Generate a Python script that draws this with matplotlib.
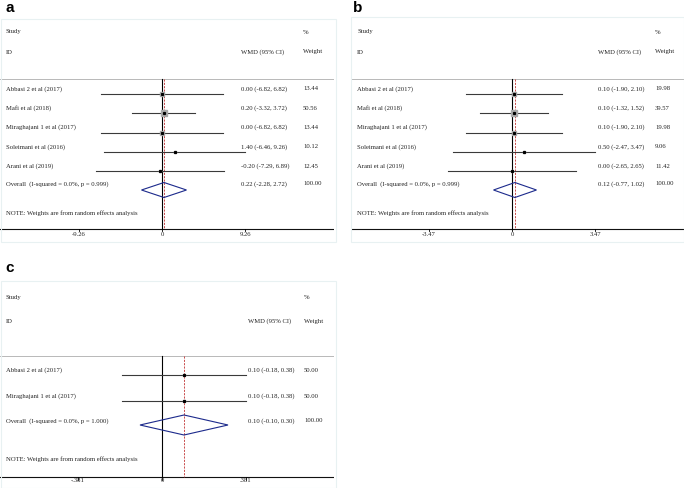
import matplotlib
matplotlib.use("Agg")
import matplotlib.pyplot as plt
from matplotlib.patches import Polygon, Rectangle

W, H = 684, 489

# ---- data ----
studies_a = ["Abbasi 2 et al (2017)", "Mafi et al (2018)", "Miraghajani 1 et al (2017)",
             "Soleimani et al (2016)", "Arani et al (2019)"]
wmd_a = [0.00, 0.20, 0.00, 1.40, -0.20]
lo_a = [-6.82, -3.32, -6.82, -6.46, -7.29]
hi_a = [6.82, 3.72, 6.82, 9.26, 6.89]
w_a = [13.44, 50.56, 13.44, 10.12, 12.45]
overall_a = [0.22, -2.28, 2.72]
ptxt_a = "0.999"
tick_a = 9.26

studies_b = studies_a
wmd_b = [0.10, 0.10, 0.10, 0.50, 0.00]
lo_b = [-1.90, -1.32, -1.90, -2.47, -2.65]
hi_b = [2.10, 1.52, 2.10, 3.47, 2.65]
w_b = [19.98, 39.57, 19.98, 9.06, 11.42]
overall_b = [0.12, -0.77, 1.02]
ptxt_b = "0.999"
tick_b = 3.47

studies_c = ["Abbasi 2 et al (2017)", "Miraghajani 1 et al (2017)"]
wmd_c = [0.10, 0.10]
lo_c = [-0.18, -0.18]
hi_c = [0.38, 0.38]
w_c = [50.00, 50.00]
overall_c = [0.10, -0.10, 0.30]
ptxt_c = "1.000"
tick_c = 0.381
ticklab_c = ["-.381", "0", ".381"]

SERIF = "Liberation Serif"
FS = 4.8

fig = plt.figure(figsize=(W / 100, H / 100), dpi=100)


def forest(x0, x1, ytop, ybot, zero_px, k, studies, est, lo, hi, wts, overall, ptxt,
           tick, ticklabs, lay, boxscale, label, label_xy, frame):
    ax = fig.add_axes([x0 / W, 1 - ybot / H, (x1 - x0) / W, (ybot - ytop) / H])
    ax.set_xlim((x0 - zero_px) / k, (x1 - zero_px) / k)
    ax.set_ylim(ybot, ytop)
    ax.axis("off")

    def px(p):
        return (p - zero_px) / k

    # faint panel frame
    fig.patches.append(Rectangle((frame[0] / W, 1 - frame[3] / H),
                                 (frame[2] - frame[0]) / W, (frame[3] - frame[1]) / H,
                                 transform=fig.transFigure, fill=False,
                                 edgecolor="#e8f1f2", lw=0.8, zorder=0))

    tx = dict(fontsize=FS, family=SERIF, va="center", color="#222222")
    ax.text(px(lay["xs"]), lay["study"], "Study", **tx)
    ax.text(px(lay["xs"]), lay["id"], "ID", **tx)
    ax.text(px(lay["xw"]), lay["study"], "%", **tx)
    ax.text(px(lay["xci"]), lay["id"], "WMD (95% CI)", **tx)
    ax.text(px(lay["xw"]), lay["id"], "Weight", **tx)

    xl = px(lay["hline_x0"])
    xr = px(x1)
    ax.plot([xl, xr], [lay["hline"], lay["hline"]], color="#b8b8b8", lw=0.7)
    ax.plot([xl, xr], [lay["axis"], lay["axis"]], color="#111111", lw=0.8)

    # null line and overall estimate line
    ax.plot([0, 0], [lay["hline"], lay["axis"]], color="black", lw=0.8)
    ax.plot([overall[0], overall[0]], [lay["hline"], lay["axis"]], color="#c03030",
            lw=0.6, ls=(0, (2.5, 1.5)))

    for i, name in enumerate(studies):
        yl = lay["row0"] + i * lay["dy"]
        yt = yl - lay["toff"]
        ax.plot([lo[i], hi[i]], [yl, yl], color="#3a3a3a", lw=0.8)
        ax.plot(est[i], yl, marker="s", ms=boxscale * wts[i] ** 0.5, color="#a8a8a8",
                mec="#a8a8a8", ls="none")
        ax.plot(est[i], yl, marker="s", ms=1.3, color="black", ls="none")
        ax.text(px(lay["xs"]), yt, name, **tx)
        ax.text(px(lay["xci"]), yt, f"{est[i]:.2f} ({lo[i]:.2f}, {hi[i]:.2f})", **tx)
        ax.text(px(lay["xw"]), yt, f"{wts[i]:.2f}", **tx)

    yd = lay["diam"]
    hh = lay["dh"] / 2
    ax.add_patch(Polygon([(overall[1], yd), (overall[0], yd - hh), (overall[2], yd),
                          (overall[0], yd + hh)], closed=True, fill=False,
                         edgecolor="#1c2a8c", lw=0.8, zorder=3))
    ax.text(px(lay["xs"]), lay["ovt"], f"Overall  (I-squared = 0.0%, p = {ptxt})", **tx)
    ax.text(px(lay["xci"]), lay["ovt"],
            f"{overall[0]:.2f} ({overall[1]:.2f}, {overall[2]:.2f})", **tx)
    ax.text(px(lay["xw"]), lay["ovt"], "100.00", **tx)
    ax.text(px(lay["xs"]), lay["note"], "NOTE: Weights are from random effects analysis", **tx)

    for t, lab in zip([-tick, 0, tick], ticklabs):
        ax.plot([t, t], [lay["axis"], lay["axis"] + 2.5], color="black", lw=0.6)
        ax.text(t, lay["tick"], lab, fontsize=FS, family=SERIF, ha="center", va="center",
                color="#222222")

    fig.text(label_xy[0] / W, 1 - label_xy[1] / H, label, fontsize=11, fontweight="bold",
             family="Liberation Sans", va="baseline", ha="left")


lay_ab = dict(study=32, id=52, hline=80, row0=95, dy=19.3, toff=6, ovt=184, diam=191,
              dh=15, note=213, axis=229.5, tick=234.5)

forest(0, 334, 18, 243, 162, 9.0, studies_a, wmd_a, lo_a, hi_a, w_a, overall_a, ptxt_a,
       tick_a, [f"-{tick_a:.2f}", "0", f"{tick_a:.2f}"],
       dict(lay_ab, xs=6, xci=241, xw=303, hline_x0=0), 0.6, "a", (6, 12.5),
       (1, 20, 336, 243))

forest(350, 684, 18, 243, 512, 24.0, studies_b, wmd_b, lo_b, hi_b, w_b, overall_b, ptxt_b,
       tick_b, [f"-{tick_b:.2f}", "0", f"{tick_b:.2f}"],
       dict(lay_ab, xs=357, xci=598, xw=655, hline_x0=352), 0.6, "b", (353, 12.5),
       (351, 18, 684, 243))

lay_c = dict(study=297, id=321, hline=357, row0=376, dy=26, toff=6, ovt=421, diam=426,
             dh=20, note=459, axis=478, tick=481, xs=6, xci=248, xw=304, hline_x0=0)
forest(0, 334, 283, 489, 162, 220.0, studies_c, wmd_c, lo_c, hi_c, w_c, overall_c, ptxt_c,
       tick_c, ticklab_c, lay_c, 0.3, "c", (5, 272.5), (1, 282, 336, 489))

fig.savefig("out.png", dpi=100)
